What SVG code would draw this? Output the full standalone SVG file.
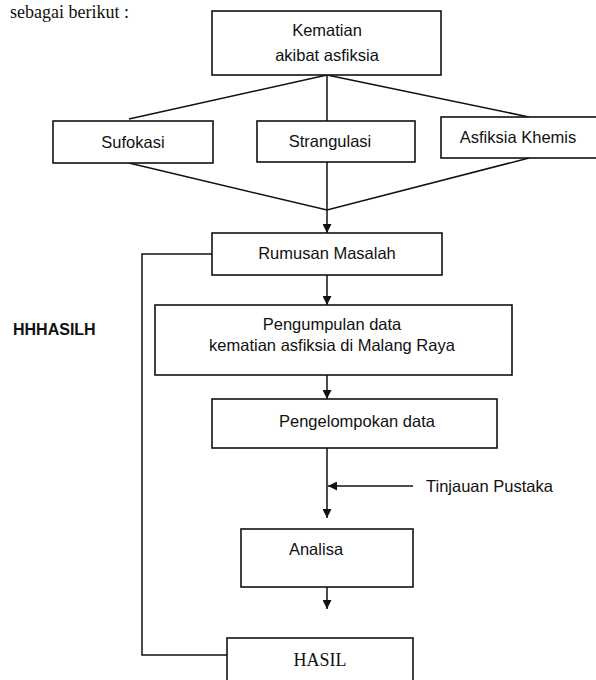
<svg xmlns="http://www.w3.org/2000/svg" width="596" height="680" viewBox="0 0 596 680">
<defs>
<style>
.box{fill:#fff;stroke:#111;stroke-width:1.6}
.ln{fill:none;stroke:#111;stroke-width:1.5}
.t{font-family:"Liberation Sans",Arial,sans-serif;font-size:16.5px;fill:#111;text-anchor:middle}
.s{font-family:"Liberation Serif","Times New Roman",serif;fill:#111}
</style>
<marker id="ah" viewBox="0 0 10 10" refX="10" refY="5" markerWidth="10" markerHeight="9" markerUnits="userSpaceOnUse" orient="auto">
<path d="M0,0 L10,5 L0,10 z" fill="#111"/>
</marker>
</defs>
<rect width="596" height="680" fill="#fff"/>
<text class="s" x="10" y="18" font-size="18">sebagai berikut :</text>
<text x="13" y="335" font-family="'Liberation Sans',Arial,sans-serif" font-size="16" font-weight="bold" fill="#111">HHHASILH</text>

<g id="connectors">
<path class="ln" d="M327,75 L129,119"/>
<path class="ln" d="M327,75 L529,117"/>
<path class="ln" d="M327,75 L327,121"/>
<path class="ln" d="M129,163 L327,210 L529,158"/>
<path class="ln" d="M327,162 L327,233" marker-end="url(#ah)"/>
<path class="ln" d="M327,275 L327,305" marker-end="url(#ah)"/>
<path class="ln" d="M327,375 L327,399" marker-end="url(#ah)"/>
<path class="ln" d="M327,448 L327,518" marker-end="url(#ah)"/>
<path class="ln" d="M413,486 L328,486" marker-end="url(#ah)"/>
<path class="ln" d="M327,587 L327,609" marker-end="url(#ah)"/>
<path class="ln" d="M212,254 L142,254 L142,655 L227,655"/>
</g>

<g id="kematian">
<rect class="box" x="212" y="11" width="229" height="64"/>
<text class="t" x="327" y="36">Kematian</text>
<text class="t" x="327" y="61">akibat asfiksia</text>
</g>
<g id="sufokasi">
<rect class="box" x="53" y="121" width="160" height="42"/>
<text class="t" x="133" y="148">Sufokasi</text>
</g>
<g id="strangulasi">
<rect class="box" x="257" y="121" width="158" height="41"/>
<text class="t" x="330" y="147">Strangulasi</text>
</g>
<g id="asfiksia">
<rect class="box" x="441" y="117" width="160" height="41"/>
<text class="t" x="518" y="143">Asfiksia Khemis</text>
</g>
<g id="rumusan">
<rect class="box" x="212" y="233" width="230" height="42"/>
<text class="t" x="327" y="259">Rumusan Masalah</text>
</g>
<g id="pengumpulan">
<rect class="box" x="155" y="305" width="357" height="70"/>
<text class="t" x="332" y="330">Pengumpulan data</text>
<text class="t" x="332" y="351">kematian asfiksia di Malang Raya</text>
</g>
<g id="pengelompokan">
<rect class="box" x="212" y="399" width="285" height="49"/>
<text class="t" x="357" y="427">Pengelompokan data</text>
</g>
<g id="tinjauan">
<text class="t" x="426" y="492" style="text-anchor:start">Tinjauan Pustaka</text>
</g>
<g id="analisa">
<rect class="box" x="241" y="529" width="172" height="58"/>
<text class="t" x="316" y="555">Analisa</text>
</g>
<g id="hasil">
<rect class="box" x="227" y="638" width="186" height="60"/>
<text class="s" x="320" y="666" font-size="18" text-anchor="middle">HASIL</text>
</g>
</svg>
